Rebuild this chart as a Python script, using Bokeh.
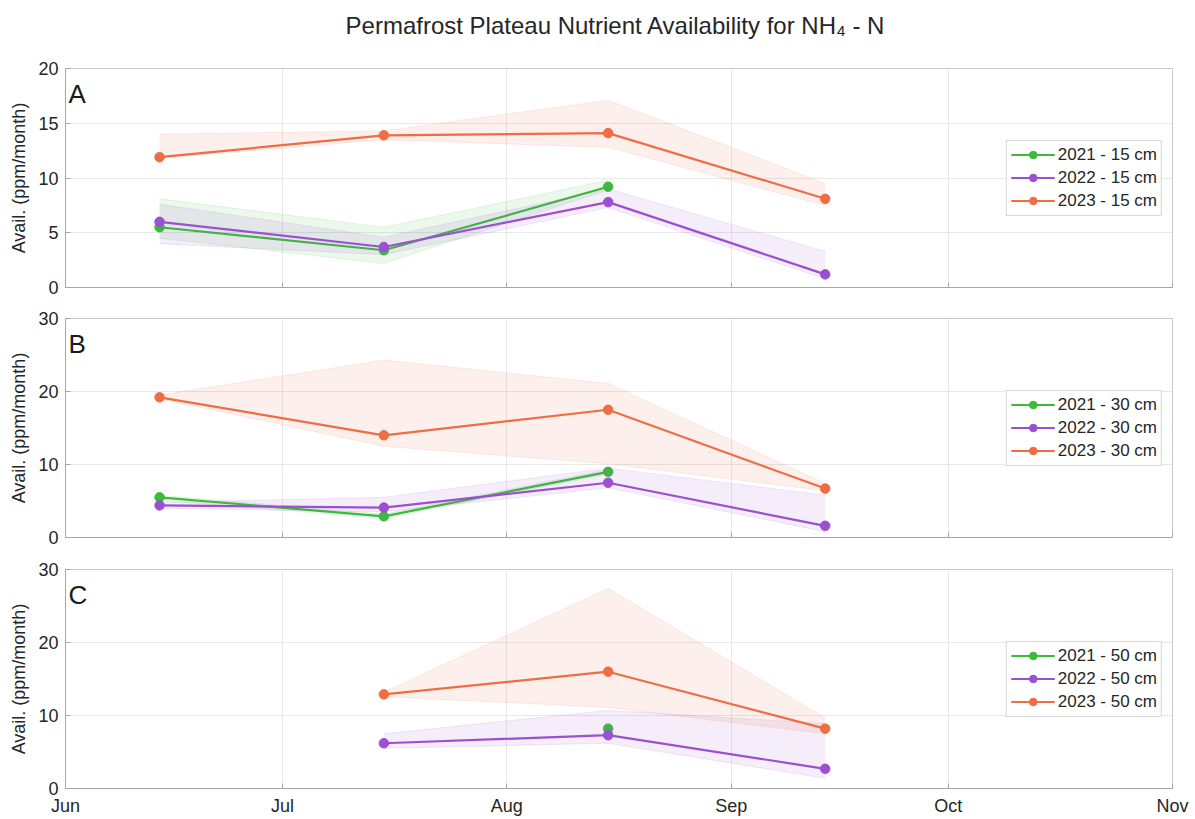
import pandas as pd
from bokeh.plotting import figure
from bokeh.layouts import column
from bokeh.models import (Range1d, FixedTicker, DatetimeTickFormatter,
                          CustomJSTickFormatter, Label, ColumnDataSource)
from bokeh.embed import file_html
from bokeh.resources import INLINE

# ---------------- data ----------------
sample_dates = ["2023-06-14", "2023-07-15", "2023-08-15", "2023-09-14"]
month_ticks = ["2023-06-01", "2023-07-01", "2023-08-01", "2023-09-01",
               "2023-10-01", "2023-11-01"]

years = ["2021", "2022", "2023"]
colors = ["#3cba3c", "#9b4fd1", "#ef6c45"]

# Panel A - 15 cm
a21_idx = [0, 1, 2]
a21_mean = [5.5, 3.4, 9.2]
a21_lo = [4.5, 2.2, 8.9]
a21_hi = [8.1, 5.5, 9.8]

a22_idx = [0, 1, 2, 3]
a22_mean = [6.0, 3.7, 7.8, 1.2]
a22_lo = [4.0, 3.0, 7.3, 0.8]
a22_hi = [7.6, 4.6, 9.0, 3.3]

a23_idx = [0, 1, 2, 3]
a23_mean = [11.9, 13.9, 14.1, 8.1]
a23_lo = [11.8, 13.5, 12.8, 7.5]
a23_hi = [14.0, 14.3, 17.1, 9.5]

# Panel B - 30 cm
b21_idx = [0, 1, 2]
b21_mean = [5.5, 2.9, 9.0]
b21_lo = [5.1, 2.6, 8.7]
b21_hi = [5.8, 3.2, 9.3]

b22_idx = [0, 1, 2, 3]
b22_mean = [4.4, 4.1, 7.5, 1.6]
b22_lo = [4.0, 3.5, 6.8, 0.8]
b22_hi = [4.8, 5.5, 9.5, 5.8]

b23_idx = [0, 1, 2, 3]
b23_mean = [19.2, 14.0, 17.5, 6.7]
b23_lo = [19.0, 12.5, 10.1, 6.4]
b23_hi = [19.5, 24.3, 21.1, 7.4]

# Panel C - 50 cm
c21_idx = [2]
c21_mean = [8.2]
c21_lo = [8.2]
c21_hi = [8.2]

c22_idx = [1, 2, 3]
c22_mean = [6.2, 7.3, 2.7]
c22_lo = [5.5, 6.2, 1.4]
c22_hi = [7.5, 10.7, 8.9]

c23_idx = [1, 2, 3]
c23_mean = [12.9, 16.0, 8.2]
c23_lo = [12.6, 11.1, 7.5]
c23_hi = [13.2, 27.4, 9.7]

title_text = "Permafrost Plateau Nutrient Availability for NH\u2084 -  N"

# ---------------- styling helpers ----------------
FONT = "Liberation Sans"
TXT = "#262626"
AX = "#a6a6a6"
GRID = "#e8e8e8"
FW, FH = 1107, 219

dates = pd.to_datetime(sample_dates)
tick_ms = [pd.Timestamp(t).value // 10**6 for t in month_ticks]
x0 = pd.Timestamp(month_ticks[0])
x1 = pd.Timestamp(month_ticks[-1])


def make_fig(ymax, yticks, top, bottom, show_x):
    p = figure(x_axis_type="datetime", frame_width=FW, frame_height=FH,
               min_border_left=65, min_border_right=20,
               min_border_top=top, min_border_bottom=bottom,
               toolbar_location=None, output_backend="svg")
    p.x_range = Range1d(x0, x1)
    p.y_range = Range1d(0, ymax)
    p.xaxis.ticker = FixedTicker(ticks=tick_ms)
    if show_x:
        p.xaxis.formatter = DatetimeTickFormatter(
            months="%b", days="%b", hours="%b", years="%b")
        p.xaxis.major_label_standoff = 7
    else:
        p.xaxis.formatter = CustomJSTickFormatter(code="return ''")
        p.xaxis.major_label_standoff = 0
    p.yaxis.ticker = FixedTicker(ticks=yticks)
    p.yaxis.axis_label = "Avail. (ppm/month)"
    p.yaxis.axis_label_text_font_style = "normal"
    p.yaxis.axis_label_text_font_size = "18px"
    p.yaxis.axis_label_text_font = FONT
    p.yaxis.axis_label_text_color = TXT
    p.yaxis.axis_label_standoff = 6
    p.yaxis.major_label_standoff = 7
    for ax in (p.xaxis, p.yaxis):
        ax.major_label_text_font = FONT
        ax.major_label_text_font_size = "18px"
        ax.major_label_text_color = TXT
        ax.axis_line_color = AX
        ax.major_tick_line_color = AX
        ax.major_tick_in = 5
        ax.major_tick_out = 0
        ax.minor_tick_line_color = None
    p.grid.grid_line_color = GRID
    p.outline_line_color = "#c8c8c8"
    p.background_fill_color = "white"
    p.border_fill_color = "white"
    return p


def add_series(p, idx, mean, lo, hi, color, label):
    src = ColumnDataSource(dict(x=[dates[i] for i in idx], m=mean, lo=lo, hi=hi))
    p.varea(x="x", y1="lo", y2="hi", source=src, fill_color=color, fill_alpha=0.10)
    p.line(x="x", y="lo", source=src, line_color=color, line_alpha=0.12, line_width=1)
    p.line(x="x", y="hi", source=src, line_color=color, line_alpha=0.12, line_width=1)
    p.line(x="x", y="m", source=src, line_color=color, line_width=2.2, legend_label=label)
    p.scatter(x="x", y="m", source=src, size=9.5, marker="circle",
              fill_color=color, line_color=color, legend_label=label)


def style_legend(p):
    lg = p.legend[0]
    lg.location = "right"
    lg.margin = 10
    lg.padding = 4
    lg.spacing = 3
    lg.label_height = 19
    lg.glyph_height = 19
    lg.glyph_width = 44
    lg.label_standoff = 3
    lg.label_text_font = FONT
    lg.label_text_font_size = "17px"
    lg.label_text_color = TXT
    lg.border_line_color = "#b0b0b0"
    lg.background_fill_alpha = 1.0


def add_letter(p, letter):
    p.add_layout(Label(x=3, y=FH - 10, x_units="screen", y_units="screen", text=letter,
                       text_baseline="top", text_font=FONT, text_font_size="26px",
                       text_color="#1a1a1a"))


# Title strip
TH = 58
pT = figure(frame_width=FW, frame_height=TH, min_border_left=65, min_border_right=20,
            min_border_top=0, min_border_bottom=0, toolbar_location=None,
            output_backend="svg", x_range=Range1d(0, 1), y_range=Range1d(0, 1))
pT.axis.visible = False
pT.grid.visible = False
pT.outline_line_color = None
pT.border_fill_color = "white"
pT.add_layout(Label(x=FW / 2, y=TH - 25, x_units="screen", y_units="screen",
                    text=title_text, text_align="center", text_baseline="middle",
                    text_font=FONT, text_font_size="24px", text_color=TXT))

# Panel A
pA = make_fig(20, [0, 5, 10, 15, 20], 10, 10, False)
add_series(pA, a21_idx, a21_mean, a21_lo, a21_hi, colors[0], "2021 - 15 cm")
add_series(pA, a22_idx, a22_mean, a22_lo, a22_hi, colors[1], "2022 - 15 cm")
add_series(pA, a23_idx, a23_mean, a23_lo, a23_hi, colors[2], "2023 - 15 cm")
style_legend(pA)
add_letter(pA, "A")

# Panel B
pB = make_fig(30, [0, 10, 20, 30], 21, 10, False)
add_series(pB, b21_idx, b21_mean, b21_lo, b21_hi, colors[0], "2021 - 30 cm")
add_series(pB, b22_idx, b22_mean, b22_lo, b22_hi, colors[1], "2022 - 30 cm")
add_series(pB, b23_idx, b23_mean, b23_lo, b23_hi, colors[2], "2023 - 30 cm")
style_legend(pB)
add_letter(pB, "B")

# Panel C
pC = make_fig(30, [0, 10, 20, 30], 22, 25, True)
add_series(pC, c21_idx, c21_mean, c21_lo, c21_hi, colors[0], "2021 - 50 cm")
add_series(pC, c22_idx, c22_mean, c22_lo, c22_hi, colors[1], "2022 - 50 cm")
add_series(pC, c23_idx, c23_mean, c23_lo, c23_hi, colors[2], "2023 - 50 cm")
style_legend(pC)
add_letter(pC, "C")

layout = column(pT, pA, pB, pC, spacing=0)
open("out.html", "w").write(file_html(layout, INLINE))
